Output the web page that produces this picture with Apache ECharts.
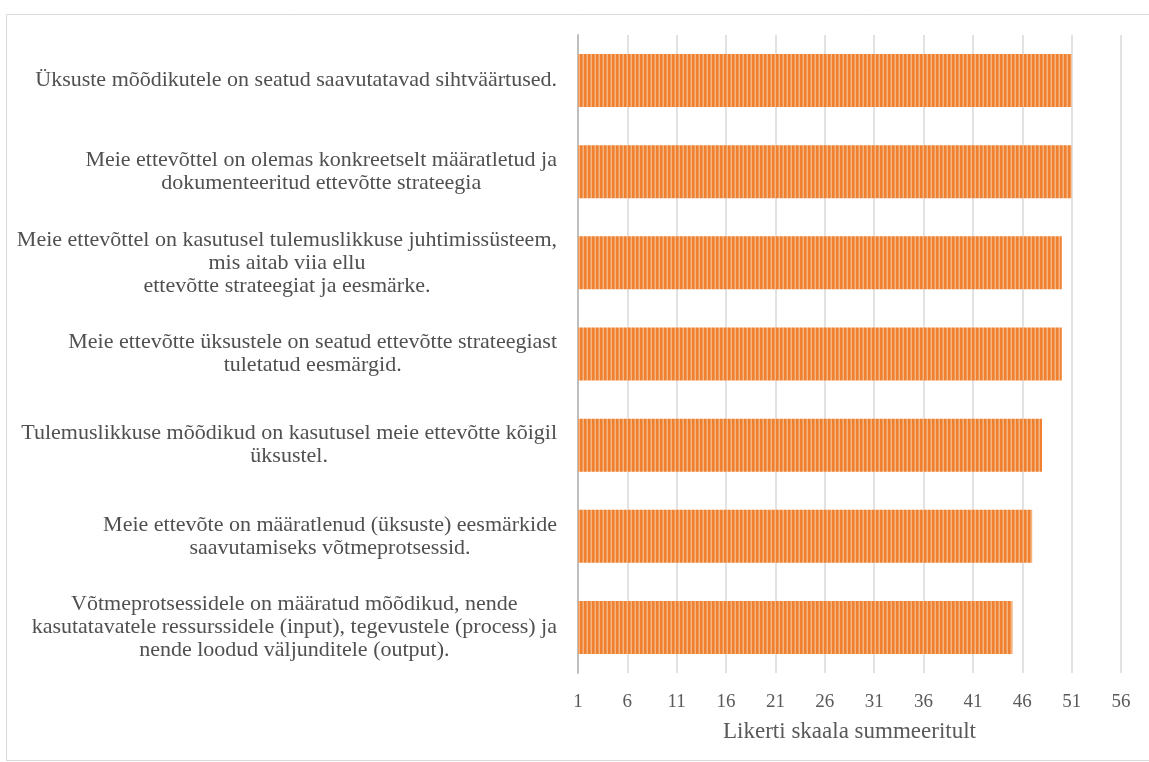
<!DOCTYPE html>
<html>
<head>
<meta charset="utf-8">
<script src="https://cdn.jsdelivr.net/npm/echarts@6/dist/echarts.min.js"></script>
<style>
html,body{margin:0;padding:0;background:#fff;}
#chart{width:1149px;height:762px;}
</style>
</head>
<body>
<div id="chart"></div>
<script>
var categories = [
  "Üksuste mõõdikutele on seatud saavutatavad sihtväärtused.",
  "Meie ettevõttel on olemas konkreetselt määratletud ja\ndokumenteeritud ettevõtte strateegia",
  "Meie ettevõttel on kasutusel tulemuslikkuse juhtimissüsteem,\nmis aitab viia ellu\nettevõtte strateegiat ja eesmärke.",
  "Meie ettevõtte üksustele on seatud ettevõtte strateegiast\ntuletatud eesmärgid.",
  "Tulemuslikkuse mõõdikud on kasutusel meie ettevõtte kõigil\nüksustel.",
  "Meie ettevõte on määratlenud (üksuste) eesmärkide\nsaavutamiseks võtmeprotsessid.",
  "Võtmeprotsessidele on määratud mõõdikud, nende\nkasutatavatele ressurssidele (input), tegevustele (process) ja\nnende loodud väljunditele (output)."
];
var values = [51, 51, 50, 50, 48, 47, 45];
var axisMin = 1, axisMax = 56, axisStep = 5;
var axisName = "Likerti skaala summeeritult";

var cv = document.createElement('canvas');
cv.width = 4; cv.height = 4;
var cx = cv.getContext('2d');
cx.fillStyle = '#EE8030'; cx.fillRect(0,0,4,4);
cx.fillStyle = '#F6B482'; cx.fillRect(3,0,1,4);
cx.fillStyle = '#F19A58'; cx.fillRect(2,0,1,4);

var chart = echarts.init(document.getElementById('chart'));
chart.setOption({
  animation: false,
  backgroundColor: '#fff',
  graphic: [{
    type: 'rect', left: 4, top: 12,
    shape: {width: 1160, height: 746},
    style: {fill: 'none', stroke: '#d9d9d9', lineWidth: 1}
  }],
  grid: {left: 578, right: 28, top: 35, bottom: 89, containLabel: false},
  xAxis: {
    type: 'value', min: axisMin, max: axisMax, interval: axisStep,
    axisLine: {show: false}, axisTick: {show: false},
    splitLine: {show: true, lineStyle: {color: '#d9d9d9', width: 1.5}},
    axisLabel: {color: '#595959', fontFamily: 'Liberation Serif', fontSize: 19, margin: 20},
    name: axisName, nameLocation: 'middle', nameGap: 47,
    nameTextStyle: {color: '#595959', fontFamily: 'Liberation Serif', fontSize: 23}
  },
  yAxis: {
    type: 'category', data: categories, inverse: true,
    axisLine: {show: true, lineStyle: {color: '#bfbfbf', width: 2}},
    axisTick: {show: false},
    axisLabel: {
      margin: 21, align: 'right', lineHeight: 23,
      color: '#505050', fontFamily: 'Liberation Serif', fontSize: 22,
      formatter: function (v) {
        return v.split('\n').map(function (s) { return '{c|' + s + '}'; }).join('\n');
      },
      rich: {c: {align: 'center', color: '#505050', fontFamily: 'Liberation Serif', fontSize: 22, lineHeight: 23}}
    }
  },
  series: [{
    type: 'bar', data: values, barWidth: 53,
    itemStyle: {color: {image: cv, repeat: 'repeat'}}
  }]
});
</script>
</body>
</html>
